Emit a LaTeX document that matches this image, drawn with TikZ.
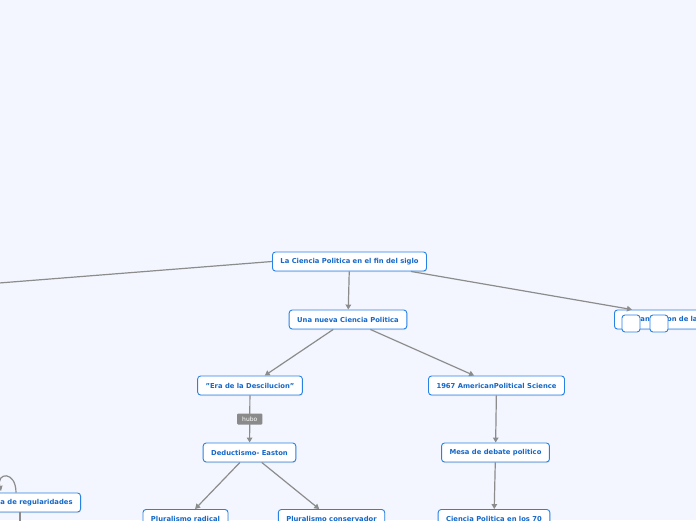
\documentclass[tikz,border=0pt]{standalone}
\usepackage{fontspec}
\setsansfont{DejaVu Sans}
\usepackage{tikz}
\usetikzlibrary{arrows.meta,positioning,shadows,calc}
\definecolor{pagebg}{RGB}{243,246,254}
\definecolor{topicblue}{RGB}{40,130,228}
\definecolor{textblue}{RGB}{22,104,200}
\definecolor{linegray}{RGB}{140,140,140}
\definecolor{taggray}{RGB}{138,138,138}

\begin{document}
\begin{tikzpicture}[x=1pt,y=-1pt,
          topic/.style={draw=topicblue,fill=white,rounded corners=3pt,line width=0.9pt,
                        minimum height=19pt,inner xsep=8pt,inner ysep=0pt,
                        text=textblue,font=\sffamily\bfseries\fontsize{6.8}{8}\selectfont,
                        drop shadow={opacity=0.18,shadow xshift=0.5pt,shadow yshift=-1pt}},
          icon/.style={draw=topicblue,fill=white,rounded corners=3pt,line width=0.9pt,
                       minimum width=18pt,minimum height=17pt,inner sep=0pt},
          ctag/.style={fill=taggray,text=white,rounded corners=1pt,
                       minimum height=11pt,inner xsep=5pt,inner ysep=0pt,
                       font=\sffamily\fontsize{6}{7}\selectfont},
          conn/.style={draw=linegray,line width=1.2pt,
                       -{Triangle[length=5pt,width=5.5pt]}}]
        \fill[pagebg] (0,0) rectangle (696,520);
        \useasboundingbox (0,0) rectangle (696,520);
        \clip (0,0) rectangle (696,520);
        % main topics
        \node[topic] (root)    at (349.5,261.5) {La Ciencia Politica en el fin del siglo};
        \node[topic] (nueva)   at (348,319.5)   {Una nueva Ciencia Politica};
        \node[topic] (era)     at (250,385.5)   {\symbol{34}Era de la Descilucion\symbol{34}};
        \node[topic] (amer)    at (496.5,385.5) {1967 AmericanPolitical Science};
        \node[topic] (deduc)   at (249.5,452.5) {Deductismo- Easton};
        \node[topic] (mesa)    at (495.5,452.5) {Mesa de debate politico};
        \node[topic] (radical) at (185.5,519) {Pluralismo radical};
        \node[topic] (conserv) at (331.5,519) {Pluralismo conservador};
        \node[topic] (setenta) at (494,519)   {Ciencia Politica en los 70};
        \node[topic,anchor=west,text width=110pt,align=left,inner xsep=12pt] (organ)
          at (614,319.5) {Organizacion de la};
        \node[topic,anchor=east] (regul) at (81,502.5) {Busqueda de regularidades};
        \node[icon] (ico1) at (631,323.5) {};
        \node[icon] (ico2) at (659,323.5) {};
        % loose ends
        \coordinate (farleft)  at (-20,284.5);
        \coordinate (loopend)  at (1,491);
        \coordinate (belowreg) at (20,535);
        % connectors
        \draw[conn] (root.west) -- (farleft);
        \draw[conn] (root) -- (nueva);
        \draw[conn] ($(root.south east)+(-16,0)$) -- ($(organ.north west)+(18,0)$);
        \draw[conn] (nueva) -- (era);
        \draw[conn] (nueva) -- (amer);
        \draw[conn] (era) -- (deduc) node[ctag,midway] {hubo};
        \draw[conn] (amer) -- (mesa);
        \draw[conn] (deduc) -- (radical);
        \draw[conn] (deduc) -- (conserv);
        \draw[conn] (mesa) -- (setenta);
        \draw[conn] ($(regul.north east)+(-65,0)$) .. controls +(0,-22) and (-4,472) .. (loopend);
        \draw[conn] ($(regul.south east)+(-61,0)$) -- (belowreg);
      \end{tikzpicture}
\end{document}
